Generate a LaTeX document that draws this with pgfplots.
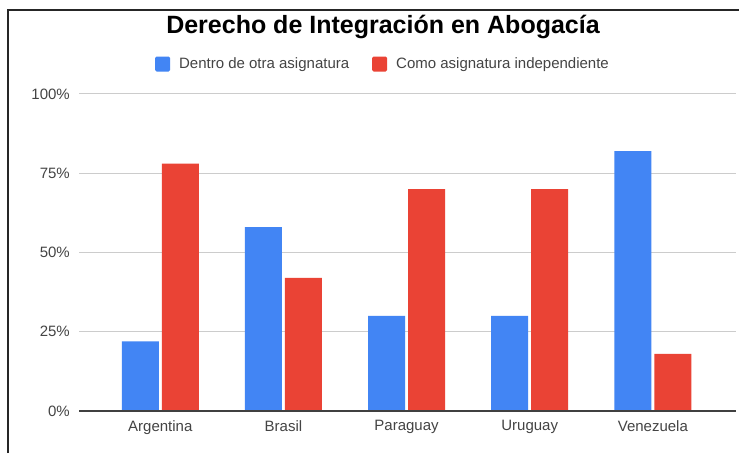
\documentclass[border=0pt]{standalone}
\usepackage{pgfplots}
\pgfplotsset{compat=1.18}
\usepackage{fontspec}
\setmainfont{Liberation Sans}

\definecolor{gblue}{HTML}{4285F4}
\definecolor{gred}{HTML}{EA4335}
\definecolor{ggrid}{HTML}{CCCCCC}
\definecolor{gtext}{HTML}{444444}

\begin{document}
\begin{tikzpicture}
\useasboundingbox (0,0) rectangle (739pt,453pt);
\fill[white] (0,0) rectangle (739pt,453pt);
% screenshot frame
\draw[line width=1.5pt, black!85] (8pt,0) -- (8pt,443pt) -- (739pt,443pt);

\node[font=\bfseries\fontsize{25}{28}\selectfont] at (383pt,426pt) {Derecho de Integración en Abogacía};

\begin{axis}[
    at={(79pt,42pt)}, anchor=south west,
    scale only axis,
    width=657pt, height=317pt,
    ybar=3pt,
    bar width=37pt,
    enlargelimits=false,
    xmin=-0.66, xmax=4.675,
    ymin=0, ymax=100,
    xtick={0,1,2,3,4},
    xticklabels={Argentina, Brasil, Paraguay, Uruguay, Venezuela},
    ytick={0,25,50,75,100},
    yticklabel={\pgfmathprintnumber{\tick}\%},
    /pgf/number format/assume math mode=true,
    major tick length=0pt,
    ymajorgrids,
    grid style={ggrid, line width=1pt},
    axis line style={draw=none},
    tick label style={font=\fontsize{15}{17}\selectfont, text=gtext},
    yticklabel style={anchor=east, inner sep=0pt, xshift=-9pt},
    xticklabel style={anchor=north, inner sep=0pt, yshift=-9pt},
    legend columns=2,
    legend style={at={(0.4627,1.0946)}, anchor=center, draw=none, fill=none,
        font=\fontsize{15}{17}\selectfont, text=gtext,
        /tikz/every odd column/.append style={column sep=7pt},
        /tikz/every even column/.append style={column sep=21pt}},
    legend image code/.code={\fill[rounded corners=1.5pt] (0pt,-7.5pt) rectangle (15pt,7.5pt);},
]
\addplot[draw=none, fill=gblue] coordinates {(0,22) (1,58) (2,30) (3,30) (4,82)};
\addplot[draw=none, fill=gred] coordinates {(0,78) (1,42) (2,70) (3,70) (4,18)};
\legend{Dentro de otra asignatura, Como asignatura independiente}
\draw[black!75, line width=1.3pt] (rel axis cs:0,0) -- (rel axis cs:1,0);
\end{axis}
\end{tikzpicture}
\end{document}
